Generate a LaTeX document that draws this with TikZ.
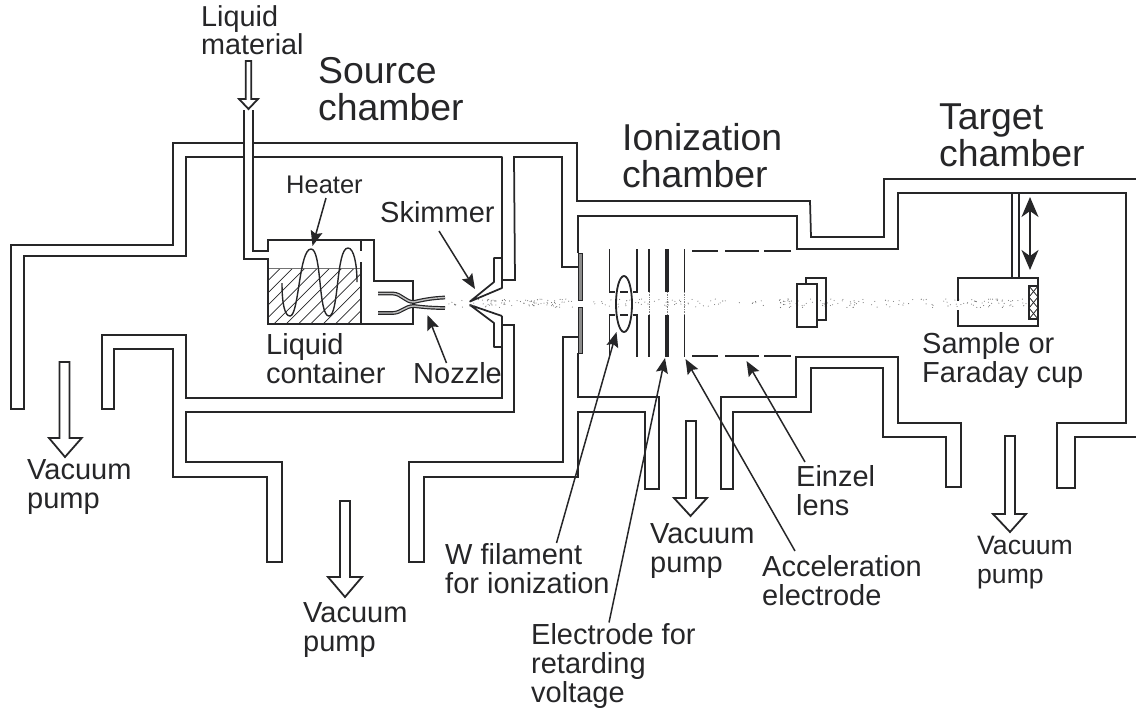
\documentclass[tikz,border=0pt]{standalone}
\usepackage{fontspec}
\setmainfont{Liberation Sans}
\usetikzlibrary{arrows.meta}
\definecolor{ink}{HTML}{262628}
\newcommand{\lfont}[2]{\fontsize{#1}{#2}\selectfont}
\tikzset{
  wall/.style={draw=ink,line width=1.75pt,line join=miter},
  thinwall/.style={draw=ink,line width=1.4pt},
  lbl/.style={text=ink,align=left,inner sep=0pt,anchor=base west,font=\lfont{29}{29}},
  title/.style={text=ink,align=left,inner sep=0pt,anchor=base west,font=\lfont{37.4}{37}},
  leader/.style={draw=ink,line width=1.5pt,-{Stealth[length=15pt,width=12pt,inset=2.5pt]}},
  hollow/.style={draw=ink,line width=1.8pt,fill=white,line join=miter},
  electrode/.style={draw=ink,line width=1.4pt},
  beamdot/.style={fill=black!55}
}
\begin{document}
\begin{tikzpicture}[x=1pt,y=-1pt]
\useasboundingbox (0,0) rectangle (1136,713);
% chamber walls
\draw[wall] (244,143)--(173,143)--(173,245)--(11,245)--(11,409)--(24,409)--(24,256)--(186,256)--(186,157)--(244,157);
\draw[wall] (253,143)--(577,143)--(577,201)--(810,201)--(811,237)--(884,237)--(884,179)--(1136,179);
\draw[wall,line join=round] (253,157)--(502,157)--(502,288)--(470,301.5)--(494,282)--(494,258)--(502,258);
\draw[wall,line join=round] (502,316)--(470,305)--(494,323)--(494,347)--(502,347);
\draw[wall] (502,316)--(502,398)--(186,398)--(186,335)--(102,335)--(102,409)--(114,409)--(114,349)--(173,349)--(173,477)--(267,477)--(267,562)--(282,562)--(282,462)--(186,462)--(186,412)--(514,412)--(514,325)--(502,325);
\draw[wall] (502,280)--(515,280)--(514,157)--(562,157)--(562,267)--(578,267);
\draw[wall] (578,253)--(578,216)--(797,216)--(797,249)--(898,249)--(898,193)--(1126,193)--(1126,423)--(1057,423)--(1057,488)--(1075,488)--(1075,437)--(1136,437);
\draw[wall] (578,353)--(578,397)--(659,397)--(659,489)--(645,489)--(645,412)--(578,412)--(578,477)--(424,477)--(424,562)--(409,562)--(409,462)--(563,462)--(563,337)--(578,337);
\draw[wall] (721,489)--(721,397)--(796,397)--(796,357)--(898,357)--(898,423)--(961,423)--(961,487)--(946,487)--(946,437)--(883,437)--(883,368)--(811,368)--(811,412)--(733,412)--(733,489)--cycle;
% aperture plates
\draw[draw=ink,line width=1pt,fill=black!45] (578.5,253) rectangle (582,300);
\draw[draw=ink,line width=1pt,fill=black!45] (578.5,307) rectangle (582,353);
% liquid container and feed tube
\begin{scope}
  \clip (268,268) rectangle (361,324);
  \foreach \k in {0,...,14}
    \draw[draw=ink,line width=.7pt] (200+12.3*\k,324)--(270+12.3*\k,254);
\end{scope}
\draw[draw=black!55,line width=1pt] (268,268)--(361,268);
\draw[wall] (253,110)--(253,251)--(268,251)--(268,240)--(374,240)--(374,281)--(413,281)--(413,324)--(268,324)--(268,259)--(244,259)--(244,110);
\draw[wall] (361,240)--(361,251) (361,262)--(361,324);
\draw[draw=ink,line width=1.4pt] (282,283) .. controls (282,305) and (285,316) .. (290,316) .. controls (299,316) and (299,249) .. (311,249) .. controls (322,249) and (318,316) .. (329,316) .. controls (339,316) and (336,248) .. (348,248) .. controls (354,248) and (357,265) .. (357,282);
% nozzle
\foreach \w/\c in {3.8/ink,1.4/black!25}{
  \draw[draw=\c,line width=\w pt] (378,293.5)--(393,293.5) .. controls (402,294) and (405,302) .. (414,302) .. controls (422,300) and (432,298) .. (445,297.5);
  \draw[draw=\c,line width=\w pt] (378,313)--(393,313) .. controls (402,312.5) and (405,306) .. (414,306) .. controls (422,307) and (432,308) .. (445,308);
}
% beam
\pgfmathsetseed{11}
\foreach \a/\b/\n in {448/470/8,470/575/85,590/640/20,640/725/34,725/780/9,780/860/52,860/945/24,945/1030/52}{
  \foreach \i in {1,...,\n}{
    \pgfmathsetmacro\dx{\a+(\b-\a)*rnd}
    \pgfmathsetmacro\dy{299+8.5*rnd}
    \fill[beamdot] (\dx,\dy) circle (.55);
  }
}
% ionizer and electrodes
\draw[draw=ink,line width=1.8pt] (624,304) ellipse (8 and 28);
\draw[electrode] (609.5,249)--(609.5,292)--(615,292) (620,292)--(628,292) (633,292)--(637,292)--(637,249);
\draw[electrode] (609.5,355)--(609.5,315)--(615,315) (620,315)--(628,315) (633,315)--(637,315)--(637,357);
\draw[electrode] (649,249)--(649,292) (649,315)--(649,357);
\draw[draw=ink,line width=3.6pt] (667,249)--(667,292) (667,315)--(667,357);
\draw[electrode] (684.5,249)--(684.5,292) (684.5,315)--(684.5,357);
\draw[draw=black!50,line width=.7pt,densely dotted] (649,292)--(649,315) (667,292)--(667,315) (684.5,292)--(684.5,315);
\draw[electrode] (692,251)--(718,251) (725,251)--(759,251) (764,251)--(791,251);
\draw[electrode] (692,356)--(718,356) (725,356)--(759,356) (764,356)--(791,356);
% Einzel lens
\draw[wall] (806,284)--(806,278)--(826,278)--(826,320)--(817,320);
\draw[wall] (797,284) rectangle (817,327);
% sample holder
\draw[wall] (958,301)--(958,278)--(1038,278)--(1038,326)--(958,326)--(958,310);
\draw[thinwall] (1012,193)--(1012,278) (1019,193)--(1019,278);
\draw[wall] (1029,286) rectangle (1038,319);
\foreach \t in {286,297,308}
  \draw[draw=ink,line width=.8pt] (1029,\t)--(1038,\t+11) (1038,\t)--(1029,\t+11);
\coordinate (travelTop) at (1030,197);
\coordinate (travelBot) at (1030,270);
\draw[draw=ink,line width=1.7pt,{Stealth[length=20pt,width=17pt,inset=6pt]}-{Stealth[length=20pt,width=17pt,inset=6pt]}] (travelTop)--(travelBot);
% hollow pump arrows
\draw[hollow] (245.8,61)--(251.2,61)--(251.2,99)--(258,99)--(248.5,109)--(239,99)--(245.8,99)--cycle;
\draw[hollow] (59.5,362)--(69.5,362)--(69.5,438)--(81.7,438)--(65,457)--(49,438)--(59.5,438)--cycle;
\draw[hollow] (340,501)--(350,501)--(350,577)--(362,577)--(345,597)--(328,577)--(340,577)--cycle;
\draw[hollow] (686,421)--(696,421)--(696,498)--(707,498)--(690.5,516)--(674,498)--(686,498)--cycle;
\draw[hollow] (1005,436)--(1015,436)--(1015,514)--(1026,514)--(1010,532)--(993,514)--(1005,514)--cycle;
% labels
\node[lbl,font=\lfont{28.8}{25}] (lqm) at (201,54) {Liquid\\material};
\node[title] (src) at (318,120.5) {Source\\chamber};
\node[title] (ion) at (622,187.5) {Ionization\\chamber};
\node[title] (tgt) at (939,166.5) {Target\\chamber};
\node[lbl,font=\lfont{25.5}{26}] (htr) at (286,193) {Heater};
\node[lbl] (skm) at (380,222) {Skimmer};
\node[lbl,font=\lfont{29}{26}] (lqc) at (266,383) {Liquid\\container};
\node[lbl] (noz) at (413,383) {Nozzle};
\node[lbl] (wfl) at (445,593) {W filament\\for ionization};
\node[lbl] (ele) at (531,702) {Electrode for\\retarding\\voltage};
\node[lbl] (acc) at (762,605) {Acceleration\\electrode};
\node[lbl] (ein) at (796,515) {Einzel\\lens};
\node[lbl] (sam) at (922,382) {Sample or\\Faraday cup};
\node[lbl] (vp1) at (27,508) {Vacuum\\pump};
\node[lbl] (vp2) at (303,651) {Vacuum\\pump};
\node[lbl] (vp3) at (650,572) {Vacuum\\pump};
\node[lbl,font=\lfont{26.6}{29}] (vp4) at (977,583) {Vacuum\\pump};
% leaders
\coordinate (heaterFrom) at (326,198);   \coordinate (heaterTo) at (312.5,246);
\coordinate (skimFrom) at (439,231);     \coordinate (skimTo) at (475,289);
\coordinate (nozFrom) at (446.5,363);    \coordinate (nozTo) at (427.5,315);
\coordinate (filFrom) at (556.5,543);    \coordinate (filTo) at (616.5,332);
\coordinate (retFrom) at (609,622.5);    \coordinate (retTo) at (665,358);
\coordinate (accFrom) at (795,551);      \coordinate (accTo) at (685.5,359);
\coordinate (einFrom) at (805,462);      \coordinate (einTo) at (746.5,361);
\foreach \p in {heater,skim,noz,fil,ret,acc,ein}
  \draw[leader] (\p From)--(\p To);
\end{tikzpicture}
\end{document}
